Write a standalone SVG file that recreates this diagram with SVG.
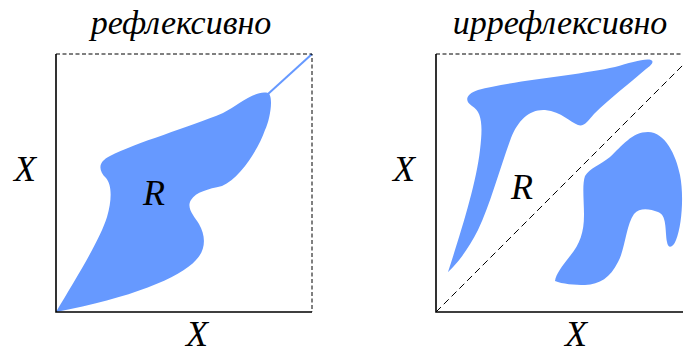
<svg xmlns="http://www.w3.org/2000/svg" width="683" height="350" viewBox="0 0 683 350">
<style>
.tx{font-family:"Liberation Serif";font-style:italic;fill:#000}
.t{font-size:34px}
.l{font-size:36px}
.blob{fill:#6699ff;stroke:none}
.ax{stroke:#000;stroke-width:1.6;fill:none}
.dash{stroke:#000;stroke-width:1;stroke-dasharray:4 2.5;fill:none}
.diag{stroke:#000;stroke-width:1;stroke-dasharray:7 4;fill:none}
</style>
<rect width="683" height="350" fill="#fff"/>
<g id="reflexive">
<path class="blob" d="M56,312 C75,280 100,240 107,217 C112,200 112,185 106,178 C98,170 98,162 110,156 C135,143 190,127 223,113 C240,104 255,90 268,93 C274,96 270,120 265,130 C258,150 240,178 222,186 C208,189 196,192 191,200 C186,208 194,216 199,224 C206,236 206,250 196,260 C180,278 130,298 56,312 Z"/>
<line x1="268" y1="94" x2="312" y2="54" stroke="#6699ff" stroke-width="2"/>
<path class="dash" d="M56,54 H312 V312"/>
<path class="ax" d="M56,54 V312 H312"/>
<text class="tx t" x="181" y="34" text-anchor="middle">рефлексивно</text>
<text class="tx l" x="25" y="181" text-anchor="middle">X</text>
<text class="tx l" x="197" y="346" text-anchor="middle">X</text>
<text class="tx l" x="154" y="205" text-anchor="middle">R</text>
</g>
<g id="irreflexive">
<path class="blob" d="M448,272 C460,235 476,185 480,150 C483,125 482,112 472,106 C464,101 466,94 478,90 C510,81 580,75 615,67 C630,63 645,58 651,60 C655,62 650,66 646,69 C630,83 610,98 594,114 C588,121 584,127 578,125 C570,122 562,112 545,110 C530,109 518,120 511,138 C500,168 490,205 478,230 C468,250 456,265 448,272 Z"/>
<path class="blob" d="M555,281 C556,274 562,266 570,256 C580,244 584,232 584,215 C584,200 582,185 585,176 C590,168 600,165 610,157 C622,146 632,132 648,132 C665,132 676,155 680,175 C684,195 682,225 676,240 C673,248 668,249 667,242 C665,230 667,215 658,212 C650,209 640,207 634,214 C626,225 625,250 618,262 C610,278 600,284 585,285 C575,285 562,284 555,281 Z"/>
<path class="dash" d="M436,54 H692 V312"/>
<line class="diag" x1="436" y1="312" x2="692" y2="56"/>
<path class="ax" d="M436,54 V312 H692"/>
<text class="tx t" font-family="DejaVu Serif" x="560" y="34" text-anchor="middle">иррефлексивно</text>
<text class="tx l" x="404" y="181" text-anchor="middle">X</text>
<text class="tx l" x="576" y="346" text-anchor="middle">X</text>
<text class="tx l" x="522" y="199" text-anchor="middle">R</text>
</g>
</svg>
